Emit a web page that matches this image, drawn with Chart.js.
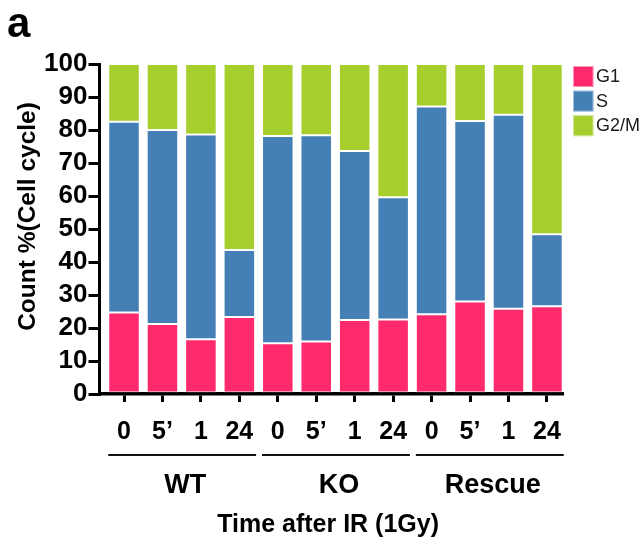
<!DOCTYPE html>
<html><head><meta charset="utf-8">
<script src="https://cdn.jsdelivr.net/npm/chart.js@4.4.1/dist/chart.umd.min.js"></script>
<style>html,body{margin:0;padding:0;background:#fff;}#wrap{width:643px;height:548px;position:relative;}</style>
</head><body><div id="wrap"><canvas id="c" width="643" height="548"></canvas></div>
<script>
// ---- data ----
const categories = ['0', '5\u2019', '1', '24', '0', '5\u2019', '1', '24', '0', '5\u2019', '1', '24'];
const groups = ['WT', 'KO', 'Rescue'];
const groupSize = 4;
const seriesNames = ['G1', 'S', 'G2/M'];
const g1Values  = [24.7, 21.2, 16.6, 23.3, 15.4, 15.9, 22.4, 22.6, 24.2, 28.0, 25.8, 26.6];
const sValues   = [57.8, 58.8, 62.0, 20.3, 62.8, 62.5, 51.2, 37.0, 62.9, 54.7, 58.8, 21.8];
const g2mValues = [17.5, 20.0, 21.4, 56.4, 21.8, 21.6, 26.4, 40.4, 12.9, 17.3, 15.4, 51.6];
const yTicks = [0, 10, 20, 30, 40, 50, 60, 70, 80, 90, 100];
const panelLabel = 'a';
const yTitle = 'Count %(Cell cycle)';
const xTitle = 'Time after IR (1Gy)';

const colors = ['#FE2A6C', '#447FB5', '#A6CE2D'];
const FONT = "'Liberation Sans', Arial, Helvetica, sans-serif";

const toPoints = arr => arr.map((v, i) => ({x: i, y: v}));
const seriesValues = [g1Values, sValues, g2mValues];

const annot = {
  id: 'annot',
  afterDraw(chart) {
    const c = chart.ctx;
    const meta = chart.getDatasetMeta(0);
    const area = chart.chartArea;
    c.save();
    c.fillStyle = '#000';
    // panel label
    c.font = "bold 42px " + FONT;
    c.textAlign = 'left';
    c.textBaseline = 'alphabetic';
    c.fillText(panelLabel, 7, 37);
    // y axis title (rotated)
    c.save();
    c.translate(35, 216.5);
    c.rotate(-Math.PI / 2);
    c.font = "bold 24.5px " + FONT;
    c.textAlign = 'center';
    c.fillText(yTitle, 0, 0);
    c.restore();
    // group brackets & labels
    groups.forEach((g, k) => {
      const b0 = meta.data[k * groupSize];
      const b1 = meta.data[k * groupSize + groupSize - 1];
      const x0 = b0.x - b0.width / 2;
      const x1 = b1.x + b1.width / 2 + 1;
      c.strokeStyle = '#111';
      c.lineWidth = 2.2;
      c.beginPath();
      c.moveTo(x0, 455);
      c.lineTo(x1, 455);
      c.stroke();
      c.font = "bold 27px " + FONT;
      c.textAlign = 'center';
      c.fillText(g, (x0 + x1) / 2 + 3, 493);
    });
    // x axis title
    c.font = "bold 25px " + FONT;
    c.textAlign = 'center';
    c.fillText(xTitle, (area.left + area.right) / 2 - 3, 532);
    // legend
    chart.data.datasets.forEach((ds, i) => {
      const y = 66 + i * 24.6;
      c.fillStyle = ds.backgroundColor;
      c.fillRect(573, y, 20.5, 21);
      c.strokeStyle = 'rgba(255,255,255,0.5)';
      c.lineWidth = 1;
      c.strokeRect(573.5, y + 0.5, 19.5, 20);
      c.fillStyle = '#1a1a1a';
      c.font = "18px " + FONT;
      c.textAlign = 'left';
      c.textBaseline = 'middle';
      c.fillText(ds.label, 596, y + 11);
      c.textBaseline = 'alphabetic';
    });
    c.restore();
  }
};

new Chart(document.getElementById('c'), {
  type: 'bar',
  data: {
    datasets: seriesNames.map((n, i) => ({
      label: n,
      data: toPoints(seriesValues[i]),
      backgroundColor: colors[i],
      borderColor: 'rgba(255,255,255,0.45)',
      borderWidth: 1,
      borderSkipped: false,
      barPercentage: 0.82,
      categoryPercentage: 1.0
    }))
  },
  options: {
    responsive: false,
    animation: false,
    devicePixelRatio: 1,
    layout: {padding: {left: 0, right: 80.3, top: 64, bottom: 0}},
    plugins: {legend: {display: false}, tooltip: {enabled: false}},
    scales: {
      x: {
        type: 'linear',
        stacked: true,
        offset: false,
        min: -0.6375,
        max: 11.41,
        afterBuildTicks: s => { s.ticks = categories.map((c, i) => ({value: i})); },
        afterFit: s => { s.height = 154; },
        ticks: {
          callback: v => categories[v],
          color: '#000',
          font: {family: FONT, size: 25, weight: 'bold'},
          padding: 15,
          autoSkip: false,
          maxRotation: 0
        },
        grid: {offset: false, drawOnChartArea: false, drawTicks: true, tickLength: 8, lineWidth: 3, color: '#000'},
        border: {display: true, width: 3.5, color: '#000'}
      },
      y: {
        stacked: true,
        min: 0,
        max: 100,
        afterBuildTicks: s => { s.ticks = yTicks.map(v => ({value: v})); },
        afterFit: s => { s.width = 99.5; },
        ticks: {
          color: '#000',
          font: {family: FONT, size: 26, weight: 'bold'},
          padding: 1,
          autoSkip: false
        },
        grid: {drawOnChartArea: false, drawTicks: true, tickLength: 11, lineWidth: 3, color: '#000'},
        border: {display: true, width: 3, color: '#000'},
        title: {display: false}
      }
    }
  },
  plugins: [annot]
});
</script>
</body></html>
